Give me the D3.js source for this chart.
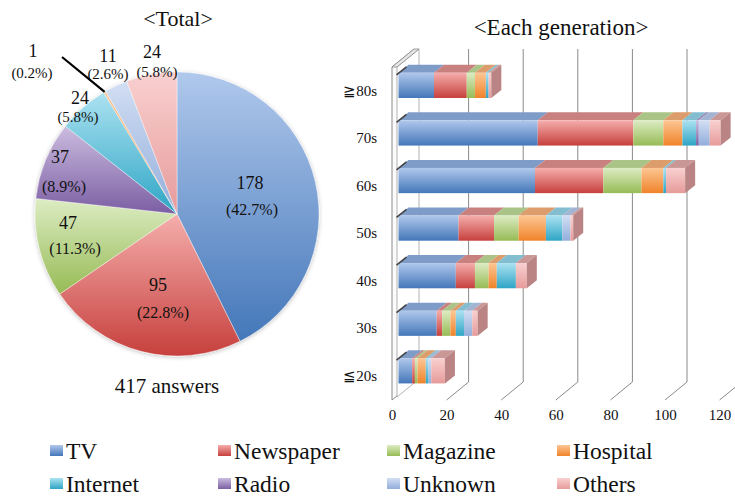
<!DOCTYPE html>
<html>
<head>
<meta charset="utf-8">
<script src="https://cdn.jsdelivr.net/npm/d3@7"></script>
<style>
  html, body { margin: 0; padding: 0; background: #fff; }
  svg { display: block; }
</style>
</head>
<body>
<svg id="chart" width="735" height="497"></svg>
<script>
// ---- data ----
const pieCategories = ["TV", "Newspaper", "Magazine", "Radio", "Internet", "Hospital", "Unknown", "Others"];
const pieCounts = [178, 95, 47, 37, 24, 1, 11, 24];
const totalAnswers = 417;

const generations = ["≧80s", "70s", "60s", "50s", "40s", "30s", "≦20s"];
const barSeries = ["TV", "Newspaper", "Magazine", "Hospital", "Internet", "Radio", "Unknown", "Others"];
const tvByGen        = [13, 51, 50, 22, 21, 14, 5];
const newspaperByGen = [12, 35, 25, 13, 7, 2, 1];
const magazineByGen  = [3, 11, 14, 9, 5, 3, 1];
const hospitalByGen  = [4, 7, 8, 10, 3, 2, 3];
const internetByGen  = [1, 5, 1, 6, 7, 3, 1];
const radioByGen     = [0, 1, 0, 0, 0, 0, 0];
const unknownByGen   = [0, 4, 0, 3, 0, 3, 1];
const othersByGen    = [1, 4, 7, 1, 4, 2, 5];
const axisTicks = [0, 20, 40, 60, 80, 100, 120];

const legendOrder = ["TV", "Newspaper", "Magazine", "Hospital", "Internet", "Radio", "Unknown", "Others"];

// ---- styles ----
const serif = '"Liberation Serif"';
const palette = {
  TV:        { light: "#b0c8ec", dark: "#4477b9", top: "#7f9bc8" },
  Newspaper: { light: "#f5aeac", dark: "#c6403d", top: "#c98180" },
  Magazine:  { light: "#dcecc3", dark: "#97bb55", top: "#aac487" },
  Hospital:  { light: "#fcc693", dark: "#f0832a", top: "#dd9c6c" },
  Internet:  { light: "#ace2f1", dark: "#2ea5c5", top: "#82bdd0" },
  Radio:     { light: "#cbbcdf", dark: "#7b5ea3", top: "#9787b2" },
  Unknown:   { light: "#d2def3", dark: "#92aedb", top: "#a3b3d2" },
  Others:    { light: "#f9d0d0", dark: "#e69b9a", top: "#c99896" }
};

const svg = d3.select("#chart");
const defs = svg.append("defs");

Object.keys(palette).forEach(k => {
  const g = defs.append("linearGradient")
    .attr("id", "grad-" + k)
    .attr("x1", 0).attr("y1", 0).attr("x2", 0).attr("y2", 1);
  g.append("stop").attr("offset", "0%").attr("stop-color", palette[k].light);
  g.append("stop").attr("offset", "100%").attr("stop-color", palette[k].dark);
});

const shadow = defs.append("filter").attr("id", "pieShadow")
  .attr("x", "-10%").attr("y", "-10%").attr("width", "120%").attr("height", "120%");
shadow.append("feDropShadow").attr("dx", 0).attr("dy", 1).attr("stdDeviation", 2)
  .attr("flood-color", "#000").attr("flood-opacity", 0.25);

function label(sel, x, y, size, str, anchor) {
  return sel.append("text").attr("x", x).attr("y", y)
    .attr("text-anchor", anchor || "middle")
    .style("font-family", serif).style("font-size", size + "px").style("fill", "#111")
    .text(str);
}

// ---- pie: total ----
const pieCx = 177, pieCy = 214, pieR = 142;
const pieData = pieCategories.map((c, i) => ({ name: c, value: pieCounts[i] }));
const arcs = d3.pie().sort(null).value(d => d.value)(pieData);
const arcGen = d3.arc().innerRadius(0).outerRadius(pieR);

const pieG = svg.append("g").attr("transform", `translate(${pieCx},${pieCy})`);
pieG.append("g").attr("filter", "url(#pieShadow)")
  .selectAll("path").data(arcs).join("path")
  .attr("d", arcGen)
  .attr("fill", d => `url(#grad-${d.data.name})`)
  .attr("stroke", "#ffffff").attr("stroke-width", 0.4);

label(svg, 178, 26, 22, "<Total>");

// label anchors around the pie (value line, percent line), relative to centre
const labelSpots = {
  TV:        { v: [73, -31],   p: [75, -5],    vs: 18, ps: 16 },
  Newspaper: { v: [-19, 71],   p: [-14, 98],   vs: 18, ps: 16 },
  Magazine:  { v: [-109, 9],   p: [-102, 34],  vs: 18, ps: 16 },
  Radio:     { v: [-117, -57], p: [-113, -28], vs: 18, ps: 16 },
  Internet:  { v: [-97, -116], p: [-99, -97],  vs: 18, ps: 15 },
  Hospital:  { v: [-144, -163], p: [-145, -141], vs: 18, ps: 15 },
  Unknown:   { v: [-69, -158], p: [-69, -140], vs: 18, ps: 15 },
  Others:    { v: [-25, -162], p: [-20, -142], vs: 18, ps: 15 }
};

arcs.forEach(a => {
  const s = labelSpots[a.data.name];
  const pct = (a.data.value / totalAnswers * 100).toFixed(1);
  label(pieG, s.v[0], s.v[1], s.vs, a.data.value).attr("dy", "0.35em");
  label(pieG, s.p[0], s.p[1], s.ps, `(${pct}%)`).attr("dy", "0.35em");
});

// leader line for the thin slice
const thin = arcs.find(a => a.data.name === "Hospital");
const thinMid = (thin.startAngle + thin.endAngle) / 2;
pieG.append("line")
  .attr("x1", Math.sin(thinMid) * pieR).attr("y1", -Math.cos(thinMid) * pieR)
  .attr("x2", -115).attr("y2", -157)
  .attr("stroke", "#000").attr("stroke-width", 2.2);

label(svg, 167, 393, 21, `${totalAnswers} answers`);

// ---- 3D stacked bars: each generation ----
const floorY = 400, plotTop = 67;
const depth = [22, -18];          // back wall offset from the floor front
const barShift = [6.5, -5.4];     // bar front face offset from the floor front
const barDepth = [10, -8];        // bar thickness in depth

const xFront = d3.scaleLinear().domain([0, 120]).range([392, 392 + 327.6]);
const yBand = d3.scaleBand().domain(generations).range([plotTop, floorY])
  .paddingInner(0.47).paddingOuter(0.235);

const barG = svg.append("g");

// back wall gridlines
barG.selectAll("line.grid").data(axisTicks.filter(v => v > 0)).join("line")
  .attr("class", "grid")
  .attr("x1", v => xFront(v) + depth[0]).attr("x2", v => xFront(v) + depth[0])
  .attr("y1", plotTop + depth[1]).attr("y2", floorY + depth[1])
  .attr("stroke", "#8a8a8a").attr("stroke-width", 1);
// floor lines
barG.selectAll("line.floor").data(axisTicks.filter(v => v > 0)).join("line")
  .attr("class", "floor")
  .attr("x1", v => xFront(v)).attr("y1", floorY)
  .attr("x2", v => xFront(v) + depth[0]).attr("y2", floorY + depth[1])
  .attr("stroke", "#8a8a8a").attr("stroke-width", 1);

// left wall (thin slab)
const w0 = xFront(0), wt = 5;
barG.append("polygon")
  .attr("points", [[w0, floorY], [w0, plotTop], [w0 + depth[0], plotTop + depth[1]], [w0 + depth[0], floorY + depth[1]]].join(" "))
  .attr("fill", "#fbfbfb").attr("stroke", "#8a8a8a").attr("stroke-width", 1);
barG.append("polygon")
  .attr("points", [[w0 + wt, floorY - 3], [w0 + wt, plotTop], [w0 + wt + depth[0], plotTop + depth[1]], [w0 + wt + depth[0], floorY + depth[1] - 3]].join(" "))
  .attr("fill", "#ffffff").attr("stroke", "#a0a0a0").attr("stroke-width", 0.8);
barG.append("polygon")
  .attr("points", [[w0, plotTop], [w0 + wt, plotTop], [w0 + wt + depth[0], plotTop + depth[1]], [w0 + depth[0], plotTop + depth[1]]].join(" "))
  .attr("fill", "#e6e6e6").attr("stroke", "#8a8a8a").attr("stroke-width", 0.8);

// stacked values
const byGen = generations.map((g, i) => ({
  gen: g,
  TV: tvByGen[i], Newspaper: newspaperByGen[i], Magazine: magazineByGen[i],
  Hospital: hospitalByGen[i], Internet: internetByGen[i], Radio: radioByGen[i],
  Unknown: unknownByGen[i], Others: othersByGen[i]
}));
const stacked = d3.stack().keys(barSeries)(byGen);

const bh = yBand.bandwidth();
generations.forEach((g, gi) => {
  const y0 = yBand(g) + barShift[1];
  const gEl = barG.append("g");
  const segs = stacked.map(s => ({ key: s.key, a: s[gi][0], b: s[gi][1] })).filter(d => d.b > d.a);
  // top faces
  segs.forEach(d => {
    const xa = xFront(d.a) + barShift[0], xb = xFront(d.b) + barShift[0];
    gEl.append("polygon")
      .attr("points", [[xa, y0], [xb, y0], [xb + barDepth[0], y0 + barDepth[1]], [xa + barDepth[0], y0 + barDepth[1]]].join(" "))
      .attr("fill", palette[d.key].top);
  });
  // front faces
  segs.forEach(d => {
    const xa = xFront(d.a) + barShift[0], xb = xFront(d.b) + barShift[0];
    gEl.append("rect").attr("x", xa).attr("y", y0).attr("width", xb - xa).attr("height", bh)
      .attr("fill", `url(#grad-${d.key})`);
  });
  // right end face
  const last = segs[segs.length - 1];
  const xe = xFront(last.b) + barShift[0];
  gEl.append("polygon")
    .attr("points", [[xe, y0], [xe + barDepth[0], y0 + barDepth[1]], [xe + barDepth[0], y0 + bh + barDepth[1]], [xe, y0 + bh]].join(" "))
    .attr("fill", "#b98483");
  // dark edge where the bar meets the wall
  const xs = xFront(0) + barShift[0];
  gEl.append("line")
    .attr("x1", xs - 2).attr("y1", y0 + 2).attr("x2", xs + barDepth[0] - 2).attr("y2", y0 + barDepth[1] + 2)
    .attr("stroke", "#444").attr("stroke-width", 1.6);
});

// axes
const xAxis = svg.append("g").attr("transform", `translate(0,${floorY})`)
  .call(d3.axisBottom(xFront).tickValues(axisTicks).tickSize(0).tickPadding(9));
xAxis.select(".domain").remove();
xAxis.selectAll("text")
  .style("font-family", serif).style("font-size", "15px").style("fill", "#111");

const yAxis = svg.append("g").attr("transform", `translate(${xFront(0)},0)`)
  .call(d3.axisLeft(yBand).tickSize(0).tickPadding(15));
yAxis.select(".domain").remove();
yAxis.selectAll("text")
  .style("font-family", serif).style("font-size", "15px").style("fill", "#111");

label(svg, 561, 35, 23, "<Each generation>");

// ---- legend ----
const legendX = [50, 218, 387, 557];
const legendRowY = [452, 485];
const legend = svg.append("g");
legendOrder.forEach((name, i) => {
  const x = legendX[i % 4], y = legendRowY[Math.floor(i / 4)];
  legend.append("rect").attr("x", x).attr("y", y - 7).attr("width", 13).attr("height", 11)
    .attr("fill", `url(#grad-${name})`);
  label(legend, x + 16, y + 7, 23.5, name, "start");
});
</script>
</body>
</html>
